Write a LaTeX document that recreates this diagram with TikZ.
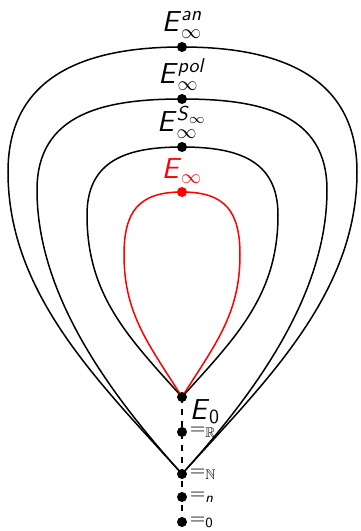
\documentclass[tikz,border=0pt]{standalone}
\usepackage{amsmath}
\usepackage{amssymb}
\usepackage{tikz}
\usetikzlibrary{positioning}
\definecolor{LimitRed}{HTML}{FF0000}
\newcommand{\sfit}[1]{\textsf{\textit{#1}}}
\tikzset{
  dot/.style={circle,fill=black,inner sep=0pt,minimum size=5pt},
  curve/.style={line width=0.75pt,draw=black},
  redcurve/.style={line width=0.75pt,draw=LimitRed},
  chain/.style={line width=0.75pt,dashed,draw=black},
  elabel/.style={font=\Large,inner sep=1.5pt},
  eqlabel/.style={font=\normalsize,inner sep=1pt}
}
\begin{document}
\begin{tikzpicture}[x=0.5pt,y=0.5pt]
  \useasboundingbox (0,0) rectangle (360,531);
  % points on the axis
  \coordinate (an) at (182,484);
  \coordinate (pol) at (182,432);
  \coordinate (sinf) at (182,384);
  \coordinate (inf) at (182,339);
  \coordinate (ezero) at (182,134);
  \coordinate (real) at (182,99);
  \coordinate (nat) at (182,57);
  \coordinate (fin) at (182,34);
  \coordinate (zero) at (182,9);
  % widest points of the loops
  \coordinate (anL) at (8,359);    \coordinate (anR) at (357,359);
  \coordinate (polL) at (37,341);  \coordinate (polR) at (327,341);
  \coordinate (sinfL) at (87,316); \coordinate (sinfR) at (278,316);
  \coordinate (infL) at (124,276); \coordinate (infR) at (240,276);

  \draw[chain] (ezero) -- (zero);
  \draw[curve] (nat) to[out=132,in=-90,looseness=.9] (anL)
    to[out=90,in=180,looseness=1.15] (an) to[out=0,in=90,looseness=1.15] (anR)
    to[out=-90,in=48,looseness=.9] (nat);
  \draw[curve] (nat) to[out=132,in=-90,looseness=.85] (polL)
    to[out=90,in=180,looseness=1.15] (pol) to[out=0,in=90,looseness=1.15] (polR)
    to[out=-90,in=48,looseness=.85] (nat);
  \draw[curve] (ezero) to[out=132,in=-90] (sinfL)
    to[out=90,in=180,looseness=1.2] (sinf) to[out=0,in=90,looseness=1.2] (sinfR)
    to[out=-90,in=48] (ezero);
  \draw[redcurve] (ezero) to[out=122,in=-90] (infL)
    to[out=90,in=180,looseness=1.3] (inf) to[out=0,in=90,looseness=1.3] (infR)
    to[out=-90,in=58] (ezero);

  \foreach \p in {an,pol,sinf,ezero,real,nat,fin,zero}
    \node[dot] (d\p) at (\p) {};
  \node[dot,fill=LimitRed] (dinf) at (inf) {};

  \node[elabel,above=0pt of dan] (lan) {\sfit{E}$^{\sfit{an}}_\infty$};
  \node[elabel,above=0pt of dpol] (lpol) {\sfit{E}$^{\sfit{pol}}_\infty$};
  \node[elabel,above=0pt of dsinf] (lsinf) {\sfit{E}$^{\sfit{S}_\infty}_\infty$};
  \node[elabel,text=LimitRed,above=0pt of dinf] (linf) {\sfit{E}$_\infty$};
  \node[elabel,anchor=north west,inner sep=1pt] (lezero) at (dezero.east) {\sfit{E}$_{\textsf{0}}$};
  \node[eqlabel,right=0pt of dreal] (lreal) {$=_{\mathbb{R}}$};
  \node[eqlabel,right=0pt of dnat] (lnat) {$=_{\mathbb{N}}$};
  \node[eqlabel,right=0pt of dfin] (lfin) {$=_{\sfit{n}}$};
  \node[eqlabel,right=0pt of dzero] (lzero) {$=_{\textsf{0}}$};
\end{tikzpicture}
\end{document}
